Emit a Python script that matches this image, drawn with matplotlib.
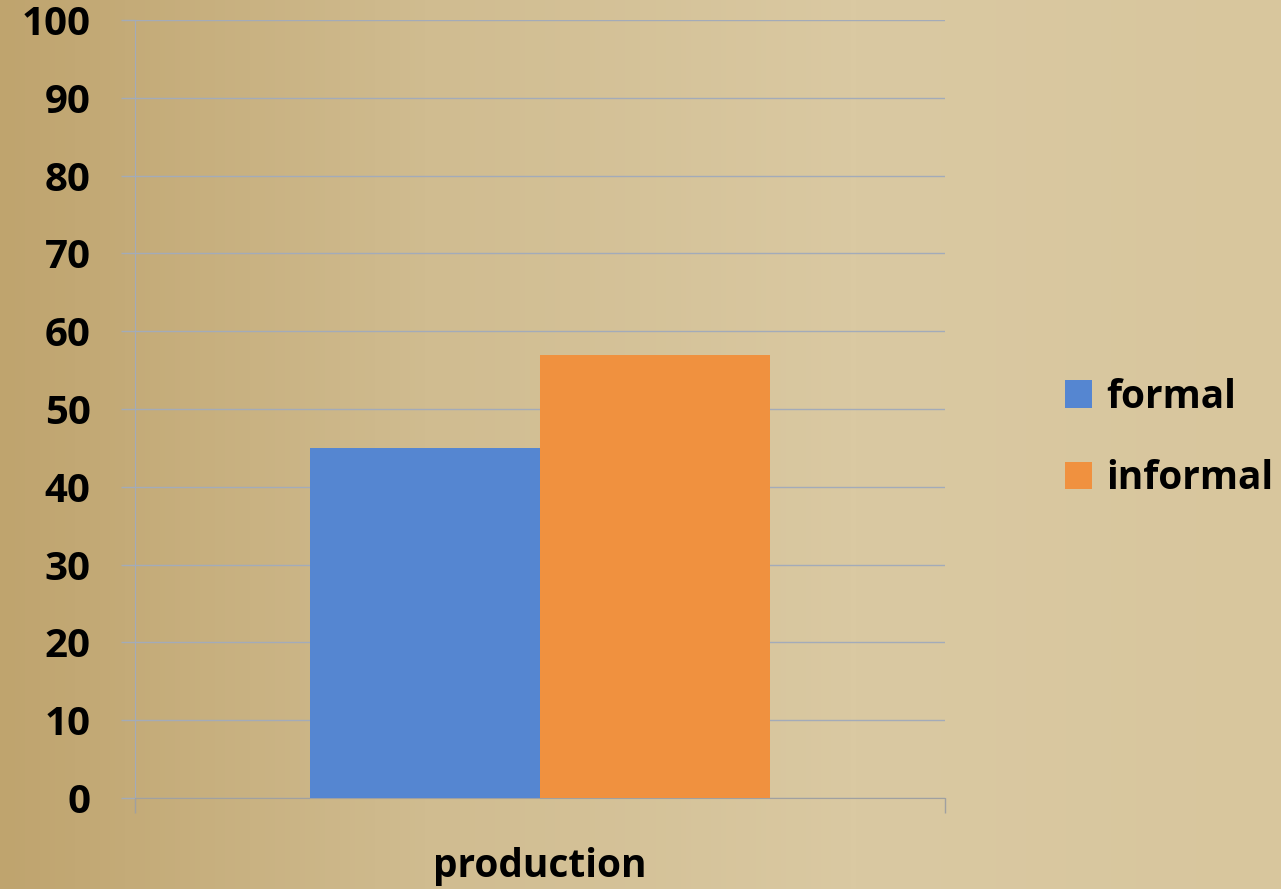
import numpy as np
import matplotlib
matplotlib.use('Agg')
import matplotlib.pyplot as plt
from matplotlib.colors import LinearSegmentedColormap

plt.rcParams['font.family'] = ['Open Sans', 'DejaVu Sans']
plt.rcParams['font.weight'] = 'bold'

# data
category = ['production']
series = ['formal', 'informal']
values = [45, 57]
colors = ['#5586d1', '#f0913f']
yticks = [0, 10, 20, 30, 40, 50, 60, 70, 80, 90, 100]

fig = plt.figure(figsize=(12.81, 8.89), dpi=100)

# parchment-like background
bg = fig.add_axes([0, 0, 1, 1], zorder=-10)
cmap = LinearSegmentedColormap.from_list('parch', ['#bfa46e', '#d0bc90', '#dac9a2', '#d8c69d'])
grad = np.linspace(0, 1, 256).reshape(1, -1)
bg.imshow(grad, aspect='auto', cmap=cmap, extent=[0, 1, 0, 1])
bg.axis('off')

ax = fig.add_axes([135 / 1281, 1 - 798 / 889, 810 / 1281, 778 / 889])
ax.patch.set_alpha(0)

grid_col = '#a3abb9'
width = 0.284
offsets = [-width / 2, width / 2]
for name, v, c, off in zip(series, values, colors, offsets):
    ax.bar(0 + off, v, width=width, color=c, label=name, zorder=3)

ax.set_xlim(-0.5, 0.5)
ax.set_ylim(0, 100)
ax.set_yticks(yticks)
ax.set_yticklabels([str(t) for t in yticks], fontsize=29, fontweight='bold')
ax.yaxis.grid(True, color=grid_col, linewidth=1.0)
ax.set_axisbelow(True)
ax.tick_params(axis='y', length=10, width=1.0, color=grid_col, pad=22)

ax.set_xticks([0])
ax.set_xticklabels(category, fontsize=28, fontweight='bold')
ax.set_xticks([-0.5, 0.5], minor=True)
ax.tick_params(axis='x', which='major', length=0, pad=35)
ax.tick_params(axis='x', which='minor', length=11, width=1.0, color='#a0a0a0')

for s in ['top', 'right']:
    ax.spines[s].set_visible(False)
ax.spines['left'].set_color(grid_col)
ax.spines['bottom'].set_color('#a0a0a0')

leg = fig.legend(loc='center left', bbox_to_anchor=(1065 / 1281, 1 - 438 / 889),
                 frameon=False, fontsize=28, handlelength=0.7, handleheight=0.7,
                 handletextpad=0.35, labelspacing=1.1, borderaxespad=0, borderpad=0)
for t in leg.get_texts():
    t.set_fontweight('bold')

fig.savefig('out.png', dpi=100)
